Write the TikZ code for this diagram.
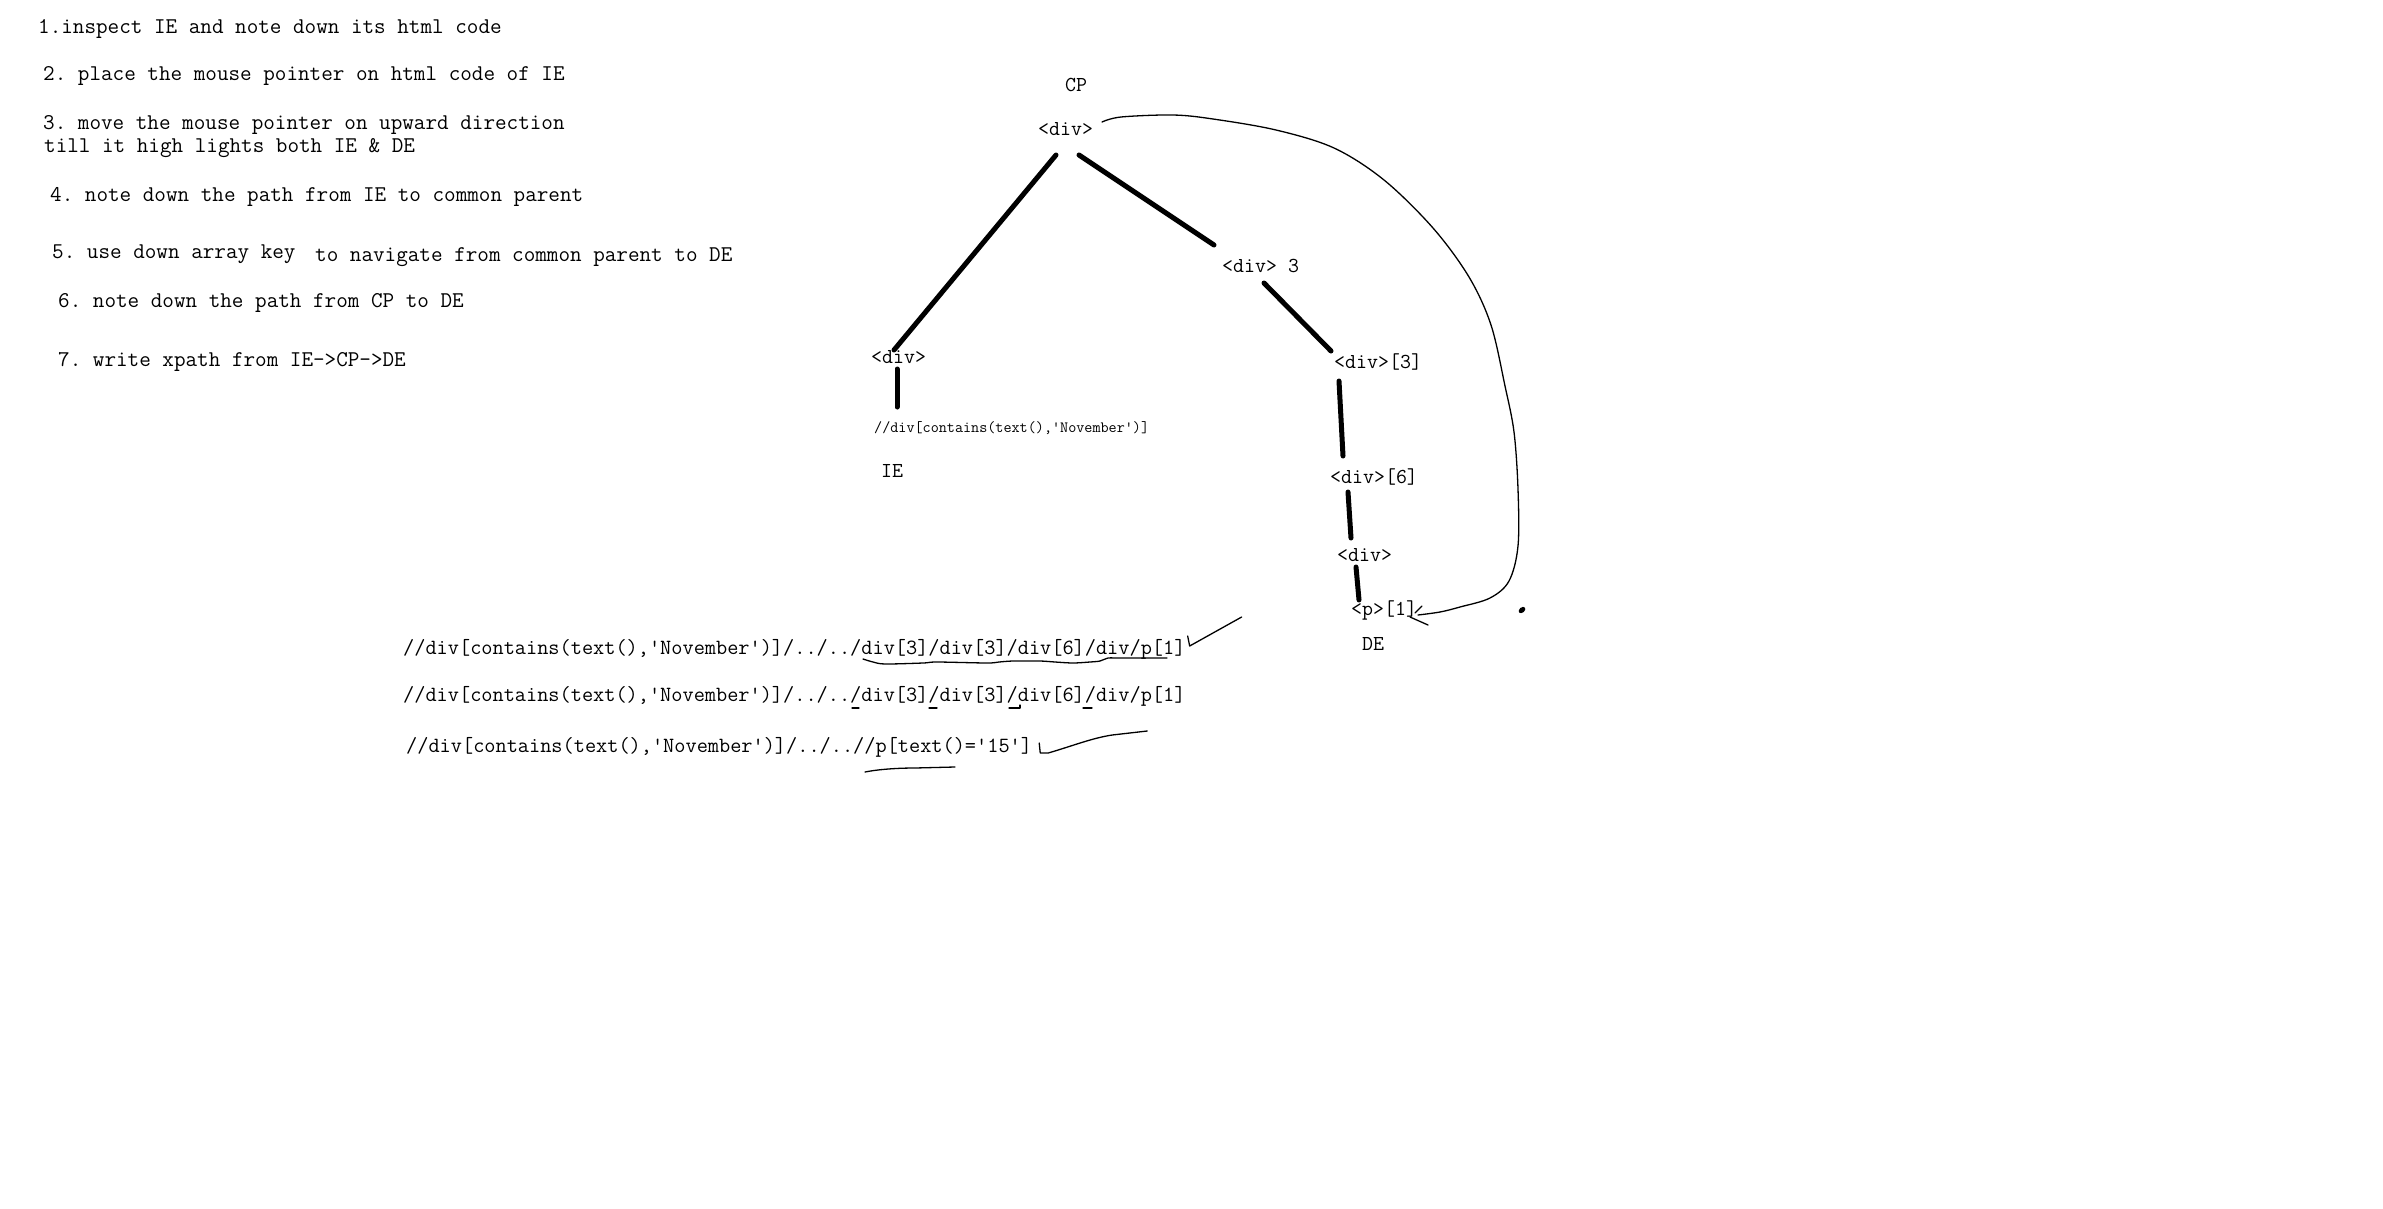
\documentclass[tikz,border=0pt]{standalone}
\usepackage{fontspec}
\setmonofont{Latin Modern Mono}
\begin{document}
\begin{tikzpicture}[x=1pt,y=-1pt,
  lbl/.style={inner sep=0pt, anchor=base west, font=\ttfamily\fontsize{22.5}{26}\selectfont},
  treelbl/.style={lbl, font=\ttfamily\fontsize{21.3}{25}\selectfont},
  xp/.style={lbl, font=\ttfamily\fontsize{21.7}{25}\selectfont},
  smalllbl/.style={lbl, font=\ttfamily\fontsize{15.7}{18}\selectfont},
  edge/.style={line width=5pt, line cap=round},
  pen/.style={line width=1.3pt, line cap=round, line join=round}]
\useasboundingbox (0,0) rectangle (2383,1208);
\fill[white] (0,0) rectangle (2383,1208);

% instructions
\node[lbl] (t1) at (38,33) {1.inspect IE and note down its html code};
\node[lbl] (t2) at (43,80) {2. place the mouse pointer on html code of IE};
\node[lbl] (t3a) at (43,129) {3. move the mouse pointer on upward direction};
\node[lbl] (t3b) at (44,152) {till it high lights both IE \& DE};
\node[lbl] (t4) at (50,201) {4. note down the path from IE to common parent};
\node[lbl] (t5a) at (52,258) {5. use down array key};
\node[lbl] (t5b) at (315,261) {to navigate from common parent to DE};
\node[lbl] (t6) at (58,307) {6. note down the path from CP to DE};
\node[lbl] (t7) at (58,366) {7. write xpath from IE->CP->DE};

% tree
\node[treelbl] (cp) at (1065,91) {CP};
\node[treelbl] (root) at (1038,135) {<div>};
\node[treelbl] (l1) at (871,363) {<div>};
\node[smalllbl] (iecode) at (874,432) {//div[contains(text(),'November')]};
\node[treelbl] (ie) at (881,477) {IE};
\node[treelbl] (r1) at (1222,272) {<div> 3};
\node[treelbl] (r2) at (1334,368) {<div>[3]};
\node[treelbl] (r3) at (1330,483) {<div>[6]};
\node[treelbl] (r4) at (1337,561) {<div>};
\node[treelbl] (r5) at (1351,615) {<p>[1]};
\node[treelbl] (de) at (1362,650) {DE};

\draw[edge] ([shift={(18,20)}]root.base west) -- ([shift={(23,-13)}]l1.base west);
\draw[edge] ([shift={(41,20)}]root.base west) -- ([shift={(-8,-27)}]r1.base west);
\draw[edge] ([shift={(26,6)}]l1.base west) -- ([shift={(23,-25)}]iecode.base west);
\draw[edge] ([shift={(42,11)}]r1.base west) -- ([shift={(-3,-17)}]r2.base west);
\draw[edge] ([shift={(5,13)}]r2.base west) -- ([shift={(13,-27)}]r3.base west);
\draw[edge] ([shift={(18,9)}]r3.base west) -- ([shift={(14,-23)}]r4.base west);
\draw[edge] ([shift={(19,6)}]r4.base west) -- ([shift={(8,-15)}]r5.base west);

% hand-drawn arc from CP to p[1]
\coordinate (cs) at ([shift={(64,-13)}]root.base west);
\coordinate (ce) at ([shift={(67,0)}]r5.base west);
\draw[pen] plot[smooth, tension=0.55] coordinates {(cs) (1121,117) (1173,115) (1213,119) (1276,130) (1334,148) (1384,180) (1433,228) (1469,277) (1491,325) (1505,386) (1514,432) (1518,489) (1518,546) (1509,581) (1490,598) (1460,607) (1440,612) (ce)};
\draw[pen] ([shift={(59,2)}]r5.base west) -- ([shift={(77,10)}]r5.base west);
\draw[pen] ([shift={(64,-2)}]r5.base west) -- ([shift={(71,-9)}]r5.base west);
\fill[rotate around={40:(1522,610)}] (1522,610) ellipse (3.8 and 2.6);

% xpath lines
\node[xp] (xa) at (403,654) {//div[contains(text(),'November')]/../../div[3]/div[3]/div[6]/div/p[1]};
\node[xp] (xb) at (403,701) {//div[contains(text(),'November')]/../../div[3]/div[3]/div[6]/div/p[1]};
\node[xp] (xc) at (406,752) {//div[contains(text(),'November')]/../..//p[text()='15']};

% annotations on line A
\draw[pen] ([shift={(2,-18)}]xa.base east) -- ([shift={(4,-8)}]xa.base east) -- ([shift={(56,-37)}]xa.base east);
\draw[pen] plot[smooth, tension=0.5] coordinates {(863,659) (873,662) (885,664) (923,663) (937,662) (987,663) (999,662) (1013,661) (1040,661) (1055,662) (1073,663) (1090,662) (1100,661) (1108,658) (1118,658) (1167,658)};

% annotations on line B
\draw[pen] (852,708) -- (859,708);
\draw[pen] (929,708) -- (937,708);
\draw[pen] (1009,708) -- (1020,708) -- (1020,705);
\draw[pen] (1083,708) -- (1092,708);

% annotations on line C
\draw[pen] ([shift={(7,-9)}]xc.base east) -- ([shift={(8,1)}]xc.base east) -- ([shift={(16,1)}]xc.base east)
  .. controls ([shift={(40,-6)}]xc.base east) and ([shift={(60,-14)}]xc.base east) .. ([shift={(80,-17)}]xc.base east)
  -- ([shift={(115,-21)}]xc.base east);
\draw[pen] (865,772) .. controls (880,769) and (900,768) .. (915,768) -- (955,767);
\end{tikzpicture}
\end{document}
